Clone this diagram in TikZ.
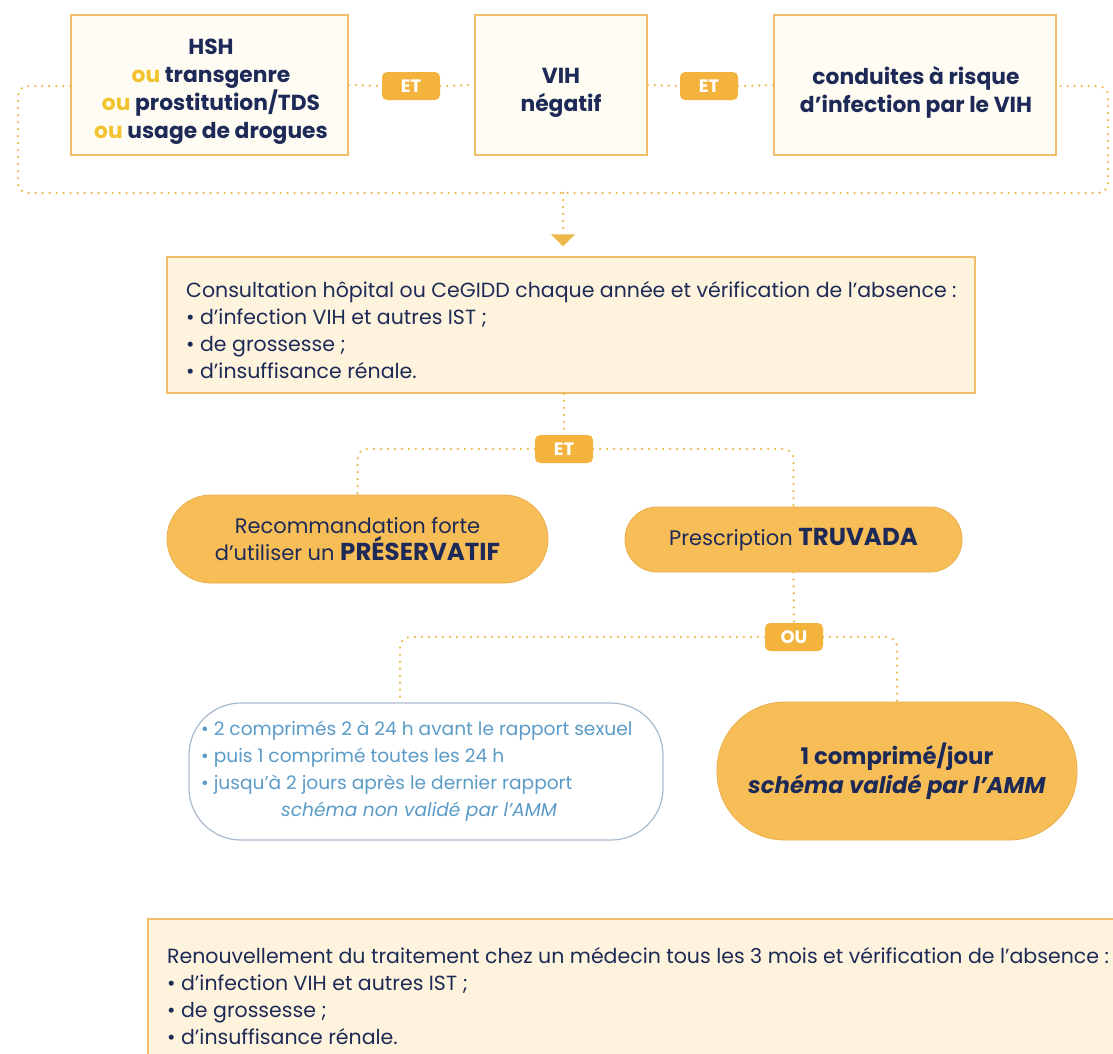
\documentclass[tikz,border=0pt]{standalone}
\usepackage{fontspec}
\setmainfont{Poppins}
\usetikzlibrary{arrows.meta}
\definecolor{navy}{HTML}{1D2A57}
\definecolor{gold}{HTML}{F3B33D}
\definecolor{boxline}{HTML}{F3BE6C}
\definecolor{cream}{HTML}{FFFCF4}
\definecolor{peach}{HTML}{FEF3DC}
\definecolor{pillc}{HTML}{F7BE57}
\definecolor{pilledge}{HTML}{EAAE4C}
\definecolor{dotc}{HTML}{ECB84C}
\definecolor{ouc}{HTML}{F3C22C}
\definecolor{bluet}{HTML}{5A9BC8}
\definecolor{blueline}{HTML}{A8BBCE}
\newcommand{\bigb}[1]{{\bfseries\fontsize{24.5}{27}\selectfont #1}}
\tikzset{
  topbox/.style={draw=boxline, line width=1.5pt, fill=cream, minimum height=140pt},
  toptext/.style={align=center, inner sep=0pt, text=navy,
    font=\bfseries\fontsize{21.8}{28}\selectfont},
  badge/.style={fill=gold, rounded corners=5pt, minimum width=58pt, minimum height=28pt,
    inner sep=0pt, text=white, font=\bfseries\fontsize{18}{20}\selectfont},
  dots/.style={draw=dotc, line width=2.5pt, line cap=round, dash pattern=on 0pt off 7pt,
    rounded corners=10pt},
  infobox/.style={draw=boxline, line width=1.5pt, fill=peach},
  bodytext/.style={align=left, inner sep=0pt, anchor=west, text=navy,
    font=\fontsize{20.5}{27}\selectfont},
  pillbox/.style={draw=pilledge, line width=0.8pt, fill=pillc, align=center, text=navy,
    font=\fontsize{21}{27}\selectfont},
  bluebox/.style={draw=blueline, line width=1.2pt, fill=white},
  bluetext/.style={align=left, inner sep=0pt, anchor=west, text=bluet,
    font=\fontsize{18.6}{27}\selectfont}
}
\begin{document}
\begin{tikzpicture}[x=1pt,y=-1pt]
\useasboundingbox[fill=white] (0,0) rectangle (1113,1053);

% top row
\node[topbox, minimum width=277pt] (b1) at (209.5,85) {};
\node[topbox, minimum width=172pt] (b2) at (561,85) {};
\node[topbox, minimum width=282pt] (b3) at (915,85) {};
\node[toptext] (t1) at (211,92)
  {HSH\\{\color{ouc}ou} transgenre\\{\color{ouc}ou} prostitution/TDS\\{\color{ouc}ou} usage de drogues};
\node[toptext] (t2) at (561,92.5) {VIH\\négatif};
\node[toptext] (t3) at (916,92.5) {conduites à risque\\d'infection par le VIH};
\node[badge] (e1) at (411,86) {ET};
\node[badge] (e2) at (709,86) {ET};
\draw[dots] (b1.east) -- (e1.west);
\draw[dots] (e1.east) -- (b2.west);
\draw[dots] (b2.east) -- (e2.west);
\draw[dots] (e2.east) -- (b3.west);
\coordinate (lt) at (18,86);
\coordinate (lb) at (18,193);
\coordinate (rb) at (1108,193);
\coordinate (rt) at (1108,86);
\coordinate (mid) at (563,193);
\draw[dots] (b1.west |- lt) -- (lt) -- (lb) -- (rb) -- (rt) -- (b3.east |- rt);

% consultation
\node[infobox, minimum width=808pt, minimum height=136pt] (cons) at (571,325) {};
\node[bodytext] (constx) at (186,330)
  {Consultation hôpital ou CeGIDD chaque année et vérification de l'absence :\\
   • d'infection VIH et autres IST ;\\
   • de grossesse ;\\
   • d'insuffisance rénale.};
\draw[dots, -{Triangle[width=24pt,length=12pt]}, shorten >=10pt] (mid) -- (mid |- cons.north);

% ET split
\node[badge] (e3) at (564,449) {ET};
\draw[dots] (e3.north |- cons.south) -- (e3.north);
\node[pillbox, minimum width=381pt, minimum height=88pt, rounded corners=44pt] (rec) at (357.5,539)
  {Recommandation forte\\d'utiliser un \bigb{PRÉSERVATIF}};
\node[pillbox, minimum width=337pt, minimum height=65pt, rounded corners=32pt] (pres) at (793.5,539.5)
  {Prescription \bigb{TRUVADA}};
\draw[dots] (e3.west) -| (rec.north);
\draw[dots] (e3.east) -| (pres.north);

% OU split
\node[badge] (ou) at (794,637) {OU};
\draw[dots] (pres.south) -- (ou.north);
\node[bluebox, minimum width=474pt, minimum height=137pt, rounded corners=52pt] (lbx) at (426,771.5) {};
\node[bluetext] (lbxt) at (201,771.5)
  {• 2 comprimés 2 à 24 h avant le rapport sexuel\\
   • puis 1 comprimé toutes les 24 h\\
   • jusqu'à 2 jours après le dernier rapport\\
   \hspace*{80pt}\textit{schéma non validé par l'AMM}};
\coordinate (lv) at (400,703);
\draw[dots] (ou.west) -| (lv);
\node[pillbox, minimum width=360pt, minimum height=138pt, rounded corners=68pt,
  font=\bfseries\fontsize{22.8}{29}\selectfont] (rp) at (897,771)
  {1 comprimé/jour\\\textit{schéma validé par l'AMM}};
\draw[dots] (ou.east) -| (rp.north);

% renewal
\node[infobox, anchor=north west, minimum width=1010pt, minimum height=170pt] (ren) at (147,918) {};
\node[bodytext] (rentx) at (167,996)
  {Renouvellement du traitement chez un médecin tous les 3 mois et vérification de l'absence :\\
   • d'infection VIH et autres IST ;\\
   • de grossesse ;\\
   • d'insuffisance rénale.};
\end{tikzpicture}
\end{document}
